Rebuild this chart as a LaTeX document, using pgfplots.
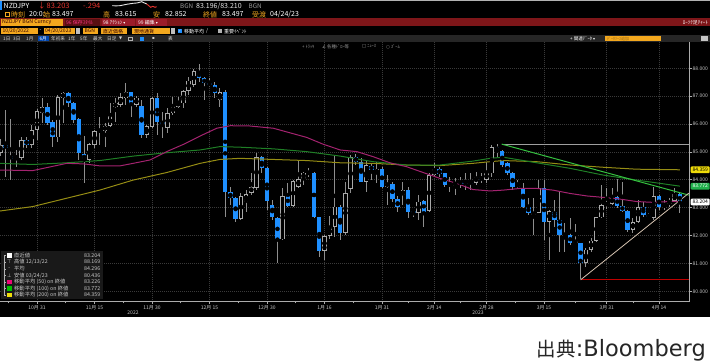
\documentclass[border=0pt]{standalone}
\usepackage{fontspec}
\setmainfont{Noto Sans CJK JP}
\newfontfamily\dejavu{DejaVu Sans}
\usepackage{pgfplots}
\usepackage{pgfplotstable}
\pgfplotsset{compat=1.18}

\definecolor{bbblue}{HTML}{1E8FFF}
\definecolor{bbwick}{HTML}{8E8E8E}
\definecolor{bbhollow}{HTML}{A8A8A8}
\definecolor{ma50}{HTML}{A3236F}
\definecolor{ma100}{HTML}{1F7F26}
\definecolor{ma200}{HTML}{968D14}
\definecolor{trendg}{HTML}{35C040}
\definecolor{bbred}{HTML}{7E1619}
\definecolor{bbred2}{HTML}{9B1C2A}
\definecolor{bborange}{HTML}{F3A81E}
\definecolor{gridc}{HTML}{3A3A3A}
\definecolor{lab}{HTML}{C8C8C8}
\definecolor{txtred}{HTML}{E8342E}
\definecolor{flagyel}{HTML}{F0DC0A}
\definecolor{flaggrn}{HTML}{22B14C}
\newcommand\fs[1]{\fontsize{#1}{#1}\selectfont}

\pgfplotstableread{
i O H L C
-7 84.95 85.45 84.85 85.25
-6 85.25 86.50 84.10 85.13
-5 84.85 86.19 83.99 84.76
-4 84.76 85.07 84.47 84.85
-3 84.77 85.55 84.71 85.43
-2 85.43 85.55 85.13 85.25
-1 85.25 85.97 85.13 85.79
0 85.79 86.53 85.43 86.47
1 86.41 86.92 86.03 86.62
2 86.62 86.74 85.97 86.05
3 86.07 86.15 85.19 85.55
4 85.52 87.04 85.37 86.96
5 86.92 87.16 86.03 87.13
6 87.13 87.16 86.62 86.74
7 86.77 86.80 86.03 86.15
8 86.17 86.20 84.71 84.95
9 84.91 85.57 83.87 84.73
10 84.71 85.31 84.59 85.27
11 85.25 85.79 85.13 85.76
12 85.79 86.27 85.25 85.74
13 85.75 86.03 85.19 85.94
14 85.93 86.74 85.91 86.29
15 86.60 86.92 86.09 86.77
16 86.68 87.10 86.60 86.98
17 86.92 87.46 86.68 87.16
18 87.16 87.16 86.27 86.68
19 86.68 87.00 86.62 86.95
20 86.65 86.86 85.49 85.61
21 85.61 85.97 85.49 85.94
22 85.91 86.98 85.85 86.92
23 86.92 87.10 85.61 86.09
24 86.06 86.44 85.49 86.03
25 85.87 86.56 85.67 86.38
26 86.38 86.98 86.32 86.65
27 86.62 86.98 86.56 86.80
28 86.74 87.22 86.56 87.20
29 87.19 87.70 87.04 87.56
30 87.40 87.99 87.34 87.91
31 87.88 88.17 87.52 87.64
32 87.64 87.70 86.86 87.46
33 87.46 87.64 87.34 87.40
34 87.40 87.52 86.92 87.13
35 86.86 87.28 86.62 87.16
36 87.16 87.22 82.68 83.57
37 83.57 83.75 83.10 83.34
38 83.34 83.40 82.50 82.60
39 82.60 83.52 82.55 83.42
40 83.21 83.65 82.85 83.49
41 83.54 84.23 83.45 83.75
42 83.70 84.97 83.63 84.81
43 84.81 84.85 84.23 84.41
44 84.41 84.47 82.92 83.24
45 83.10 83.28 82.56 82.65
46 82.62 82.68 81.03 81.86
47 81.86 83.69 81.84 83.42
48 83.42 83.87 83.04 83.07
49 83.07 83.99 83.04 83.97
50 83.75 84.69 83.70 84.02
51 84.02 84.29 83.81 84.26
52 84.21 84.41 84.11 84.28
53 84.26 84.29 82.62 82.65
54 82.65 82.68 81.24 81.46
55 81.46 82.02 81.12 81.98
56 81.98 82.70 81.87 82.32
57 82.30 84.89 81.96 83.04
58 83.04 83.10 81.84 82.08
59 82.08 83.93 82.02 83.54
60 83.66 84.89 83.52 84.81
61 84.81 84.93 84.53 84.65
62 84.65 84.77 83.93 83.93
63 83.93 84.71 83.57 84.53
64 84.50 84.59 83.99 84.35
65 84.23 84.65 83.87 84.38
66 84.38 84.47 83.69 83.75
67 83.75 84.17 83.10 83.90
68 83.85 83.93 83.22 83.30
69 83.30 83.42 82.86 83.01
70 83.45 83.93 83.10 83.63
71 83.63 83.75 82.62 82.86
72 82.89 82.92 82.68 82.82
73 82.82 83.45 82.56 83.22
74 83.24 83.28 82.32 82.86
75 82.89 84.23 82.86 84.17
76 84.16 84.59 84.11 84.38
77 84.38 84.45 84.11 84.21
78 84.23 84.26 83.75 83.81
79 83.81 84.11 83.57 83.85
80 83.78 84.05 83.45 83.93
81 83.93 84.11 83.69 83.87
82 83.89 84.23 83.63 83.85
83 83.93 84.23 83.63 83.85
84 83.90 84.29 83.81 84.11
85 84.11 84.23 83.87 83.99
86 83.99 84.65 83.87 84.26
87 84.23 85.25 84.11 85.19
88 85.19 85.28 84.80 85.05
89 85.05 85.07 84.47 84.53
90 84.59 84.65 84.17 84.23
91 84.23 84.29 83.63 83.75
92 83.75 83.99 83.69 83.87
93 83.69 83.87 82.98 83.04
94 83.04 83.34 82.74 82.80
95 82.74 83.34 82.02 82.82
96 82.80 83.99 82.80 83.69
97 83.69 83.99 81.84 82.50
98 82.50 82.92 81.12 82.89
99 82.85 83.28 82.32 82.56
100 82.56 83.57 81.42 82.02
101 82.00 82.44 81.42 82.06
102 82.02 82.62 81.66 81.72
103 81.75 82.40 81.70 81.80
104 81.74 81.74 80.44 81.03
105 81.03 81.54 80.88 81.50
106 81.48 81.90 81.42 81.82
107 81.82 82.68 81.78 82.65
108 82.65 83.81 82.62 83.10
109 83.08 83.70 82.95 83.18
110 83.13 83.69 83.10 83.37
111 83.37 84.02 82.98 83.06
112 83.06 83.93 82.86 82.89
113 82.89 82.92 82.14 82.20
114 82.20 82.62 82.08 82.50
115 82.50 83.28 82.44 83.01
116 83.01 83.22 82.68 82.74
117 82.74 82.80 82.62 82.65
118 82.62 83.75 82.56 83.42
119 83.42 83.46 82.92 83.01
120 83.01 83.28 82.92 83.13
121 83.13 83.34 83.04 83.24
122 83.24 83.69 83.22 83.49
123 83.49 83.57 82.80 83.20
}\ohlc

\begin{document}
\begin{tikzpicture}[x=1pt,y=1pt]
\useasboundingbox (0,0) rectangle (710,362);
\fill[black] (0,0) rectangle (710,362);
\fill[white] (0,0) rectangle (710,45);
\draw[gray!60, line width=0.8pt] (0,361.6) -- (710,361.6);

% ---------- header row 1
\fill[bbblue] (0,352) rectangle (2,360.5);
\node[anchor=west,inner sep=0,font=\fs{7},text=white] at (3.5,356) {NZDJPY};
\node[anchor=west,inner sep=0,font=\fs{7.5},text=txtred] at (38,356) {↓};
\node[anchor=west,inner sep=0,font=\fs{7.5},text=txtred] at (46.5,356) {83.203};
\node[anchor=west,inner sep=0,font=\fs{7.5},text=txtred] at (83,356) {-.294};
\node[anchor=west,inner sep=0,font=\fs{6.3},text=gray!80] at (180,356) {BGN};
\node[anchor=west,inner sep=0,font=\fs{7},text=white!90!black] at (196,356) {83.196/83.210};
\node[anchor=west,inner sep=0,font=\fs{6.3},text=gray!80] at (248.5,356) {BGN};

% ---------- header row 2
\fill[bborange] (5,344.6) rectangle (10.2,350.4);
\fill[black] (6.2,345.8) rectangle (9,349.2);
\node[anchor=west,inner sep=0,font=\fs{7},text=bborange] at (11,347.5) {時刻};
\node[anchor=west,inner sep=0,font=\fs{7},text=white] at (29,347.5) {20:0:};
\node[anchor=west,inner sep=0,font=\fs{7},text=bborange] at (43,347.5) {始};
\node[anchor=west,inner sep=0,font=\fs{7},text=white] at (52,347.5) {83.497};
\node[anchor=west,inner sep=0,font=\fs{7},text=bborange] at (103,347.5) {高};
\node[anchor=west,inner sep=0,font=\fs{7},text=white] at (115,347.5) {83.615};
\node[anchor=west,inner sep=0,font=\fs{7},text=bborange] at (153,347.5) {安};
\node[anchor=west,inner sep=0,font=\fs{7},text=white] at (165,347.5) {82.852};
\node[anchor=west,inner sep=0,font=\fs{7},text=bborange] at (203,347.5) {終値};
\node[anchor=west,inner sep=0,font=\fs{7},text=white] at (222,347.5) {83.497};
\node[anchor=west,inner sep=0,font=\fs{7},text=bborange] at (252,347.5) {受渡};
\node[anchor=west,inner sep=0,font=\fs{7},text=white] at (270,347.5) {04/24/23};

% ---------- header row 3 (red band)
\fill[bbred] (0,336) rectangle (710,343.5);
\fill[bborange] (0.5,336.3) rectangle (63,343.2);
\node[anchor=west,inner sep=0,font=\fs{5.2},text=black!80!red] at (2,339.75) {NZDJPY BGN Curncy};
\fill[black!30!bbred] (64.5,336.3) rectangle (100,343.2);
\node[anchor=west,inner sep=0,font=\fs{5},text=red!60!magenta!80!white] at (66,339.75) {96 保存ｽﾀｲﾙ};
\fill[bbred2] (101.5,336.3) rectangle (134.5,343.2);
\node[anchor=west,inner sep=0,font=\fs{5},text=white] at (103,339.75) {98 ｱｸｼｮﾝ {\dejavu\fs{4}▾}};
\fill[bbred2] (136,336.3) rectangle (167,343.2);
\node[anchor=west,inner sep=0,font=\fs{5},text=white] at (138,339.75) {99 編集 {\dejavu\fs{4}▾}};
\node[anchor=east,inner sep=0,font=\fs{5},text=white] at (708,339.75) {ﾛｰｿｸ足ﾁｬｰﾄ};

% ---------- header row 4 (inputs)
\fill[bborange] (1,327.5) rectangle (38,334.2);
\node[anchor=west,inner sep=0,font=\fs{5},text=black!80!red] at (2.5,330.85) {10/20/2022};
\node[anchor=west,inner sep=0,font=\fs{5},text=white] at (39.5,330.85) {-};
\fill[bborange] (43.5,327.5) rectangle (75,334.2);
\node[anchor=west,inner sep=0,font=\fs{5},text=black!80!red] at (45,330.85) {04/20/2023};
\fill[gray!50] (75.8,327.8) rectangle (79.5,333.9);
\fill[bborange] (83,327.5) rectangle (98,334.2);
\node[anchor=west,inner sep=0,font=\fs{5},text=black!80!red] at (84.5,330.85) {BGN};
\fill[bborange] (101,327.5) rectangle (127,334.2);
\node[anchor=west,inner sep=0,font=\fs{5},text=black!80!red] at (103,330.85) {直近価格};
\fill[bborange] (131.5,327.5) rectangle (170,334.2);
\node[anchor=west,inner sep=0,font=\fs{5},text=black!80!red] at (134,330.85) {現地通貨};
\fill[gray!50] (170.5,327.8) rectangle (174.5,333.9);
\fill[bbblue] (177.5,328.6) rectangle (182,333.1);
\node[anchor=center,inner sep=0,font=\dejavu\fs{4},text=white] at (179.75,330.85) {✓};
\node[anchor=west,inner sep=0,font=\fs{5},text=white] at (184,330.85) {移動平均};
\node[anchor=west,inner sep=0,font=\fs{5},text=white] at (206,330.85) {/};
\fill[gray!60] (217.5,328.6) rectangle (221.5,333.1);
\node[anchor=west,inner sep=0,font=\fs{5},text=white] at (224,330.85) {重要ｲﾍﾞﾝﾄ};

% ---------- header row 5 (toolbar)
\fill[black!85!white] (0,320) rectangle (710,326.5);
\foreach \xx/\tt in {3/1日,13/3日,26/1月,51/年初来,68/1年,80/5年,93/最大,107/日足,168/表}{
  \node[anchor=west,inner sep=0,font=\fs{4.6},text=white!85!black] at (\xx,323.25) {\tt};}
\node[anchor=west,inner sep=0,font=\dejavu\fs{4},text=white!85!black] at (119,323.25) {▼};
\node[anchor=west,inner sep=0,font=\dejavu\fs{4},text=white!85!black] at (152,323.25) {▪};
\fill[blue!60!cyan!70!black] (38,320.6) rectangle (48.5,325.9);
\node[anchor=west,inner sep=0,font=\fs{4.6},text=white] at (39.3,323.25) {6月};
\draw[gray!60] (128,321.3) rectangle (132,325.2);
\fill[bbblue] (140,321.3) rectangle (144,325.2);
\node[anchor=west,inner sep=0,font=\fs{4.6},text=white] at (570,323.25) {+ 関連ﾃﾞｰﾀ {\dejavu\fs{4}▾}};
\fill[bborange] (605,320.6) rectangle (660.5,325.9);
\node[anchor=west,inner sep=0,font=\fs{4},text=bborange!60!black] at (607,323.25) {ﾃﾞｰﾀｿｰｽ追加};
\fill[gray!45] (701,320.6) rectangle (708,325.9);

% ---------- chart
\begin{axis}[
  at={(0pt,60.5pt)}, anchor=south west,
  width=689pt, height=259.5pt, scale only axis,
  xmin=-7.08, xmax=124.74, ymin=79.634, ymax=88.943,
  axis x line*=bottom, axis y line*=right,
  axis line style={draw=gray!65, line width=0.7pt},
  tick style={draw=gray!65, line width=0.6pt},
  tick align=outside, major tick length=2.5pt, minor tick length=1.8pt,
  xtick={0,11,22,33,44,55,66,76,86,97,109,119},
  xticklabels={10月 31,11月 15,11月 30,12月 15,12月 30,1月 16,1月 31,2月 14,2月 28,3月 15,3月 31,4月 14},
  minor xtick={-5.5,5.5,16.5,27.5,38.5,49.5,60.5,71,81,91.5,103,114},
  ytick={80,81,82,83,84,85,86,87,88},
  xticklabel style={font=\fs{5}, text=lab, inner sep=1pt},
  yticklabel style={font=\fs{5}, text=lab, inner sep=1pt,
    /pgf/number format/fixed, /pgf/number format/fixed zerofill,
    /pgf/number format/precision=3},
  /pgf/number format/assume math mode=true,
  grid=major, grid style={gridc, line width=0.6pt, dash pattern=on 1pt off 1pt},
  clip=false,
]
% wicks
\addplot[only marks, mark=none, forget plot,
  error bars/.cd, y dir=both, y explicit, error mark=none,
  error bar style={bbwick, line width=0.9pt}]
  table[x=i, y expr={(\thisrow{H}+\thisrow{L})/2}, y error expr={(\thisrow{H}-\thisrow{L})/2}] {\ohlc};
% hollow (up) bodies: outline
\addplot[only marks, mark=none, forget plot,
  restrict expr to domain={\thisrow{C}-\thisrow{O}}{0:20},
  error bars/.cd, y dir=both, y explicit, error mark=none,
  error bar style={bbhollow, line width=4.4pt}]
  table[x=i, y expr={(\thisrow{O}+\thisrow{C})/2}, y error expr={max(abs(\thisrow{C}-\thisrow{O})/2,0.022)}] {\ohlc};
% hollow (up) bodies: inside
\addplot[only marks, mark=none, forget plot,
  restrict expr to domain={\thisrow{C}-\thisrow{O}}{0:20},
  error bars/.cd, y dir=both, y explicit, error mark=none,
  error bar style={black, line width=2.6pt}]
  table[x=i, y expr={(\thisrow{O}+\thisrow{C})/2}, y error expr={max(abs(\thisrow{C}-\thisrow{O})/2-0.032,0)}] {\ohlc};
% filled (down) bodies
\addplot[only marks, mark=none, forget plot,
  restrict expr to domain={\thisrow{O}-\thisrow{C}}{0.0001:20},
  error bars/.cd, y dir=both, y explicit, error mark=none,
  error bar style={bbblue, line width=4.4pt}]
  table[x=i, y expr={(\thisrow{O}+\thisrow{C})/2}, y error expr={max(abs(\thisrow{C}-\thisrow{O})/2,0.022)}] {\ohlc};

% moving averages
\addplot[ma200, line width=1pt] coordinates {(-7.1,82.88) (-0.8,83.04) (5.7,83.34) (12,83.63) (18.4,83.99) (24.8,84.26) (31.2,84.59) (35,84.73) (38.8,84.77) (45.2,84.73) (51.6,84.69) (58,84.61) (64.3,84.59) (70.7,84.53) (77.1,84.51) (83.4,84.59) (86.7,84.65) (89.2,84.69) (95.6,84.65) (102,84.53) (108.3,84.45) (114.7,84.38) (123,84.359)};
\addplot[ma100, line width=1pt] coordinates {(-7.1,84.59) (-0.8,84.55) (5.7,84.61) (12,84.69) (18.4,84.85) (24.8,84.97) (31.2,85.07) (35,85.19) (38.8,85.17) (45.2,85.11) (51.6,85.01) (58,84.85) (64.3,84.65) (70.7,84.53) (77.1,84.53) (83.4,84.67) (86.7,84.77) (89.2,84.81) (95.6,84.61) (102,84.41) (108.3,84.17) (114.7,83.99) (123,83.772)};
\addplot[ma50, line width=1pt] coordinates {(-7.1,84.35) (-0.8,84.33) (5.7,84.59) (9,84.57) (12,84.50) (15.9,84.50) (18.4,84.59) (21.6,84.71) (24.8,85.01) (28,85.27) (31.2,85.57) (34.4,85.85) (37,85.94) (40.7,85.93) (45.2,85.85) (51.6,85.52) (54.7,85.28) (58,85.07) (61.2,85.01) (64.3,84.83) (67.5,84.61) (70.7,84.47) (73.9,84.26) (77.1,84.05) (80.3,83.87) (83.4,83.65) (86.7,83.60) (89.2,83.63) (92.4,83.69) (95.6,83.69) (98.7,83.63) (102,83.51) (105.2,83.42) (108.3,83.37) (111.5,83.31) (114.7,83.22) (117.9,83.19) (121.1,83.22) (123,83.226)};
% drawn lines
\addplot[gray!75, line width=0.8pt] coordinates {(88.9,85.28) (124.7,85.28)};
\addplot[trendg, line width=1pt] coordinates {(88.9,85.28) (124.7,83.45)};
\addplot[red!75!black, line width=1pt] coordinates {(104,80.41) (124.7,80.41)};
\addplot[brown!35!white!80!gray, line width=0.8pt] coordinates {(104,80.41) (124.7,83.52)};
% intraday sparkline of the header (same axis scale, above the plot area)
\addplot[white!90!black, line width=0.9pt] coordinates {(14.41,90.246) (15.11,90.239) (15.88,90.246) (16.55,90.271) (17.16,90.296) (17.79,90.314) (18.42,90.332) (18.94,90.339) (19.38,90.353) (20.03,90.389) (20.47,90.350) (20.99,90.307)};
\addplot[txtred, line width=0.9pt] coordinates {(20.99,90.307) (21.29,90.260) (21.75,90.188) (22.14,90.224) (22.58,90.188) (22.90,90.210)};
\end{axis}

% chart top tools
\node[anchor=west,inner sep=0,font=\fs{4.4},text=gray!80] at (302,315.5) {+ ﾄﾗｯｷ};
\node[anchor=west,inner sep=0,font=\fs{4.4},text=gray!80] at (322,315.5) {{\dejavu ∠} 各種ﾄﾞﾛｰ等};
\node[anchor=west,inner sep=0,font=\fs{4.4},text=gray!80] at (362,315.5) {{\dejavu □} ﾆｭｰｽ};
\node[anchor=west,inner sep=0,font=\fs{4.4},text=gray!80] at (386,315.5) {{\dejavu ○} ｽﾞｰﾑ};

% year labels
\node[inner sep=0,font=\fs{5},text=lab] at (133,49.3) {2022};
\node[inner sep=0,font=\fs{5},text=lab] at (478,49.3) {2023};

% right flags
\node[anchor=west,fill=flagyel,text=black,font=\fs{5},inner sep=0.8pt,minimum height=6.8pt,minimum width=19pt,rounded corners=1pt] at (690.5,192.2) {84.359};
\node[anchor=west,fill=flaggrn,text=white,font=\fs{5},inner sep=0.8pt,minimum height=6.8pt,minimum width=19pt,rounded corners=1pt] at (690.5,175.8) {83.772};
\node[anchor=west,fill=white,text=black,font=\fs{5},inner sep=0.8pt,minimum height=6.8pt,minimum width=19pt,rounded corners=1pt] at (690.5,160.0) {83.204};

% legend box
\fill[black!90!white] (0.5,63.5) rectangle (103,111.5);
\draw[gray!60, line width=0.4pt] (4,106.5) -- (4,66.9);
\foreach \yy in {106.5,99.9,93.3,86.7,80.1,73.5,66.9}{\draw[gray!60, line width=0.4pt] (4,\yy) -- (6,\yy);}
\fill[white] (7,104.2) rectangle (11.6,108.8);
\node[inner sep=0,font=\dejavu\fs{5},text=lab] at (9.3,99.9) {⊤};
\node[inner sep=0,font=\dejavu\fs{5},text=lab] at (9.3,93.3) {-};
\node[inner sep=0,font=\dejavu\fs{5},text=lab] at (9.3,86.7) {⊥};
\fill[magenta!80!red] (7,77.8) rectangle (11.6,82.4);
\fill[green!75!black] (7,71.2) rectangle (11.6,75.8);
\fill[flagyel] (7,64.6) rectangle (11.6,69.2);
\foreach \yy/\tt/\vv in {106.5/{直近値}/83.204, 99.9/{高値 12/13/22}/88.169, 93.3/{平均}/84.296, 86.7/{安値 03/24/23}/80.436, 80.1/{移動平均 (50) on 終値}/83.226, 73.5/{移動平均 (100) on 終値}/83.772, 66.9/{移動平均 (200) on 終値}/84.359}{
  \node[anchor=west,inner sep=0,font=\fs{5.3},text=lab] at (14,\yy) {\tt};
  \node[anchor=east,inner sep=0,font=\fs{5.3},text=lab] at (100.5,\yy) {\vv};}

% source
\node[anchor=base east,inner sep=0,text=black!85] at (706,6) {{\fs{19.5}出典}{\dejavu\fs{22.5}:Bloomberg}};
\end{tikzpicture}
\end{document}
